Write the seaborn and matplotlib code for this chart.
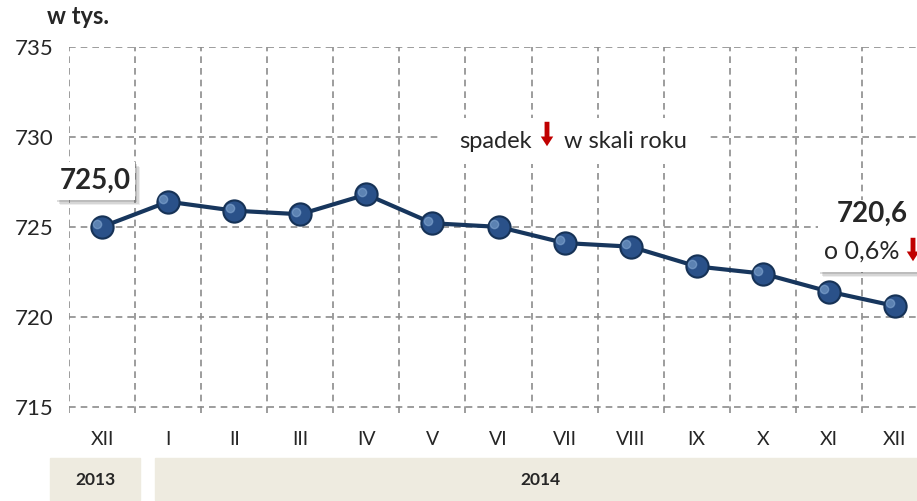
import numpy as np
import matplotlib
matplotlib.use("Agg")
import matplotlib.pyplot as plt
import seaborn as sns
from matplotlib.patches import Rectangle

# data (thousands)
months = ["XII", "I", "II", "III", "IV", "V", "VI", "VII", "VIII", "IX", "X", "XI", "XII"]
values = [725.0, 726.4, 725.9, 725.7, 726.8, 725.2, 725.0, 724.1, 723.9, 722.8, 722.4, 721.4, 720.6]
years = ["2013", "2014"]
y_ticks = [715, 720, 725, 730, 735]

sns.set_style("white")
plt.rcParams["font.family"] = ["Lato", "DejaVu Sans"]

W, H = 917, 501
fig = plt.figure(figsize=(W / 100, H / 100), dpi=100)


def fx(px):
    return px / W


def fy(py):
    return 1 - py / H


ax = fig.add_axes([fx(69), fy(413), fx(859), fy(47) - fy(413)])
pos = np.arange(len(months))

sns.lineplot(x=pos, y=values, ax=ax, color="#17365D", linewidth=3,
             marker="o", markersize=16, markerfacecolor="#2A5189",
             markeredgecolor="#163256", markeredgewidth=1.5, zorder=5)
# small highlight on each marker
ax.plot(pos - 0.07, np.array(values) + 0.15, "o", ms=6, color="#8FB3DC",
        alpha=0.5, zorder=6)

ax.set_xlim(-0.5, len(months) - 0.5)
ax.set_ylim(714.65, 735)
ax.set_yticks(y_ticks)
ax.set_xticks(pos)
ax.set_xticklabels(months, fontsize=14)
ax.set_xticks(np.arange(-0.5, len(months), 1), minor=True)
for lab in ax.get_yticklabels():
    lab.set_fontsize(16)

gcol = "#8C8C8C"
ax.grid(which="minor", axis="x", color=gcol, linestyle=(0, (4, 3)), linewidth=1.2)
ax.grid(which="major", axis="y", color=gcol, linestyle=(0, (4, 3)), linewidth=1.2)
ax.grid(which="major", axis="x", visible=False)
ax.tick_params(axis="y", which="major", length=7, color=gcol, width=1.2, pad=4)
ax.tick_params(axis="x", which="major", length=0, pad=13)
ax.tick_params(axis="x", which="minor", length=0)
for s in ax.spines.values():
    s.set_visible(False)
ax.set_xlabel("")
ax.set_ylabel("")

# unit label
fig.text(fx(78), fy(17), "w tys.", fontsize=17, fontweight="bold",
         ha="center", va="center")

# year bands
fig.add_artist(Rectangle((fx(50), fy(500)), fx(90), fy(458) - fy(500),
                         transform=fig.transFigure, color="#EEEBE0", zorder=1))
fig.add_artist(Rectangle((fx(155), fy(500)), fx(762), fy(458) - fy(500),
                         transform=fig.transFigure, color="#EEEBE0", zorder=1))
fig.text(fx(95), fy(480), years[0], fontsize=12.5, fontweight="bold",
         ha="center", va="center", zorder=2)
fig.text(fx(540), fy(480), years[1], fontsize=12.5, fontweight="bold",
         ha="center", va="center", zorder=2)


def shadow_box(x0, y0, x1, y1):
    for k, a in [(5, 0.10), (3.5, 0.15), (2, 0.2)]:
        fig.add_artist(Rectangle((fx(x0 + k), fy(y1 + k)), fx(x1 - x0), fy(y0) - fy(y1),
                                 transform=fig.transFigure, color="#555555",
                                 alpha=a, lw=0, zorder=1))
    fig.add_artist(Rectangle((fx(x0), fy(y1)), fx(x1 - x0), fy(y0) - fy(y1),
                             transform=fig.transFigure, color="white", lw=0, zorder=1.5))


# first value box
shadow_box(55, 162, 135, 200)
fig.text(fx(95), fy(181), f"{values[0]:.1f}".replace(".", ","), fontsize=20,
         fontweight="bold", ha="center", va="center", zorder=3)

# last value box
shadow_box(818, 200, 925, 272)
fig.text(fx(872), fy(214), f"{values[-1]:.1f}".replace(".", ","), fontsize=20,
         fontweight="bold", ha="center", va="center", zorder=3)
change = (values[-1] - values[0]) / values[0] * 100
fig.text(fx(862), fy(251), f"o {abs(change):.1f}%".replace(".", ","), fontsize=18,
         ha="center", va="center", zorder=3)

# caption on a white patch
fig.add_artist(Rectangle((fx(440), fy(164)), fx(268), fy(118) - fy(164),
                         transform=fig.transFigure, color="white", lw=0, zorder=1.5))
fig.text(fx(532), fy(141), "spadek", fontsize=17, ha="right", va="center", zorder=3)
fig.text(fx(564), fy(141), "w skali roku", fontsize=17, ha="left", va="center", zorder=3)

arrow = dict(arrowstyle="simple,head_width=0.9,head_length=0.7,tail_width=0.35",
             color="#C00000", lw=0)
fig.add_artist(plt.Annotation("", xy=(547, H - 149), xytext=(547, H - 119),
                              xycoords="figure pixels", textcoords="figure pixels",
                              arrowprops=arrow, zorder=4))
fig.add_artist(plt.Annotation("", xy=(913, H - 264), xytext=(913, H - 235),
                              xycoords="figure pixels", textcoords="figure pixels",
                              arrowprops=arrow, zorder=4))

fig.savefig("out.png", dpi=100)
